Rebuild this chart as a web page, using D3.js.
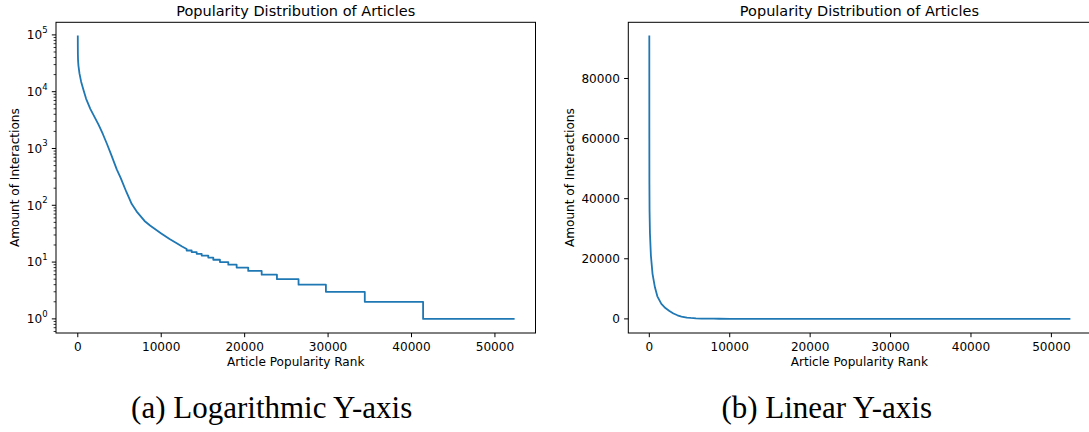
<!DOCTYPE html>
<html>
<head>
<meta charset="utf-8">
<script src="https://cdn.jsdelivr.net/npm/d3@7"></script>
<style>
  body { margin: 0; background: #fff; }
  svg text { font-family: "DejaVu Sans", sans-serif; fill: #000; }
  .caption { font-family: "Liberation Serif", serif; }
</style>
</head>
<body>
<div id="chart"></div>
<script>
// Data.
// Head of the ranked distribution (smooth part): rank -> interactions.
let headRank  = [0, 5, 12, 30, 80, 200, 400, 700, 1000, 1500, 2000, 2500, 3000, 3500, 4000, 4670, 5150, 5800, 6470, 7140, 8000, 8660, 10000, 11000, 11860, 12500, 13050];
let headValue = [94000, 60000, 45000, 36000, 28500, 21000, 15000, 10500, 7500, 5000, 3600, 2600, 1800, 1200, 780, 430, 300, 175, 105, 75, 53, 44, 32, 25.5, 21.5, 18.8, 17];

// Tail: integer levels and the rank where each level starts.
let stepLevel = [16, 15, 14, 13, 12, 11, 10, 9, 8, 7, 6, 5, 4, 3, 2, 1];
let stepStart = [13050, 13650, 14250, 14850, 15640, 16240, 17040, 18040, 19040, 20430, 22040, 23870, 26460, 29740, 34400, 41390];
let lastRank = 52250;

let xTicks = [0, 10000, 20000, 30000, 40000, 50000];
let logTicks = [0, 1, 2, 3, 4, 5];
let linTicks = [0, 20000, 40000, 60000, 80000];

let title = 'Popularity Distribution of Articles';
let xLabel = 'Article Popularity Rank';
let yLabel = 'Amount of Interactions';
let captions = ['(a) Logarithmic Y-axis', '(b) Linear Y-axis'];

// Build points.
let points = headRank.map((r, i) => [r, headValue[i]]);
stepLevel.forEach((v, i) => {
    let end = i + 1 < stepStart.length ? stepStart[i + 1] : lastRank;
    points.push([stepStart[i], v]);
    points.push([end, v]);
});

// Constants.
let width = 1089,
    height = 432,
    tickLen = 4.2,
    minorLen = 2.4,
    pad = 4.2,
    fontSize = 12.1,
    axTop = 22.3,
    axBottom = 333;

let svg = d3.select('#chart')
    .append('svg')
        .attr('width', width)
        .attr('height', height);

// matplotlib style 5% margins.
let xMax = lastRank, xm = 0.05 * xMax;
let xDomain = [-xm, xMax + xm];
let yMax = d3.max(points, d => d[1]);
let yMinLog = Math.log10(d3.min(points, d => d[1])), yMaxLog = Math.log10(yMax);
let lm = 0.05 * (yMaxLog - yMinLog);
let ym = 0.05 * yMax;

let panels = [
    {left: 56, right: 535.5, log: true, caption: captions[0], capX: 271.7, ylabX: 14},
    {left: 628.3, right: 1090.5, log: false, caption: captions[1], capX: 826.7, ylabX: 569}
];

panels.forEach(p => {
    let g = svg.append('g');
    let x = d3.scaleLinear().domain(xDomain).range([p.left, p.right]);
    let y = p.log
        ? d3.scaleLog().domain([Math.pow(10, yMinLog - lm), Math.pow(10, yMaxLog + lm)]).range([axBottom, axTop])
        : d3.scaleLinear().domain([-ym, yMax + ym]).range([axBottom, axTop]);

    // Line.
    g.append('path')
        .datum(points)
        .attr('fill', 'none')
        .attr('stroke', '#1f77b4')
        .attr('stroke-width', 1.8)
        .attr('stroke-linejoin', 'round')
        .attr('stroke-linecap', 'square')
        .attr('d', d3.line().x(d => x(d[0])).y(d => y(d[1])));

    // Frame.
    g.append('rect')
        .attr('x', p.left).attr('y', axTop)
        .attr('width', p.right - p.left).attr('height', axBottom - axTop)
        .attr('fill', 'none').attr('stroke', '#000').attr('stroke-width', 1);

    // X ticks.
    xTicks.forEach(t => {
        let px = x(t);
        g.append('line')
            .attr('x1', px).attr('x2', px)
            .attr('y1', axBottom).attr('y2', axBottom + tickLen)
            .attr('stroke', '#000').attr('stroke-width', 1);
        g.append('text')
            .attr('x', px).attr('y', axBottom + tickLen + pad + 9.3)
            .attr('text-anchor', 'middle')
            .attr('font-size', fontSize)
            .text(t);
    });

    // Y ticks.
    if (p.log) {
        let dom = y.domain();
        // minor ticks
        for (let e = -1; e <= 5; e++) {
            for (let m = 2; m <= 9; m++) {
                let v = m * Math.pow(10, e);
                if (v < dom[0] || v > dom[1]) continue;
                g.append('line')
                    .attr('x1', p.left - minorLen).attr('x2', p.left)
                    .attr('y1', y(v)).attr('y2', y(v))
                    .attr('stroke', '#000').attr('stroke-width', 0.8);
            }
        }
        logTicks.forEach(e => {
            let py = y(Math.pow(10, e));
            g.append('line')
                .attr('x1', p.left - tickLen).attr('x2', p.left)
                .attr('y1', py).attr('y2', py)
                .attr('stroke', '#000').attr('stroke-width', 1);
            let t = g.append('text')
                .attr('x', p.left - tickLen - pad).attr('y', py)
                .attr('dy', '0.36em')
                .attr('text-anchor', 'end')
                .attr('font-size', fontSize);
            t.append('tspan').text('10');
            t.append('tspan')
                .attr('font-size', fontSize * 0.7)
                .attr('dy', '-0.75em')
                .text(e);
        });
    } else {
        linTicks.forEach(v => {
            let py = y(v);
            g.append('line')
                .attr('x1', p.left - tickLen).attr('x2', p.left)
                .attr('y1', py).attr('y2', py)
                .attr('stroke', '#000').attr('stroke-width', 1);
            g.append('text')
                .attr('x', p.left - tickLen - pad).attr('y', py)
                .attr('dy', '0.36em')
                .attr('text-anchor', 'end')
                .attr('font-size', fontSize)
                .text(v);
        });
    }

    // Labels + title.
    let cx = (p.left + p.right) / 2;
    g.append('text')
        .attr('x', cx).attr('y', 15.8)
        .attr('text-anchor', 'middle')
        .attr('font-size', 14.5)
        .text(title);
    g.append('text')
        .attr('x', cx).attr('y', 366)
        .attr('text-anchor', 'middle')
        .attr('font-size', fontSize)
        .text(xLabel);
    g.append('text')
        .attr('transform', `translate(${p.ylabX + 4.5}, ${(axTop + axBottom) / 2}) rotate(-90)`)
        .attr('text-anchor', 'middle')
        .attr('font-size', fontSize)
        .text(yLabel);

    g.append('text')
        .attr('class', 'caption')
        .attr('x', p.capX).attr('y', 418.3)
        .attr('text-anchor', 'middle')
        .attr('font-size', 31)
        .text(p.caption);
});
</script>
</body>
</html>
